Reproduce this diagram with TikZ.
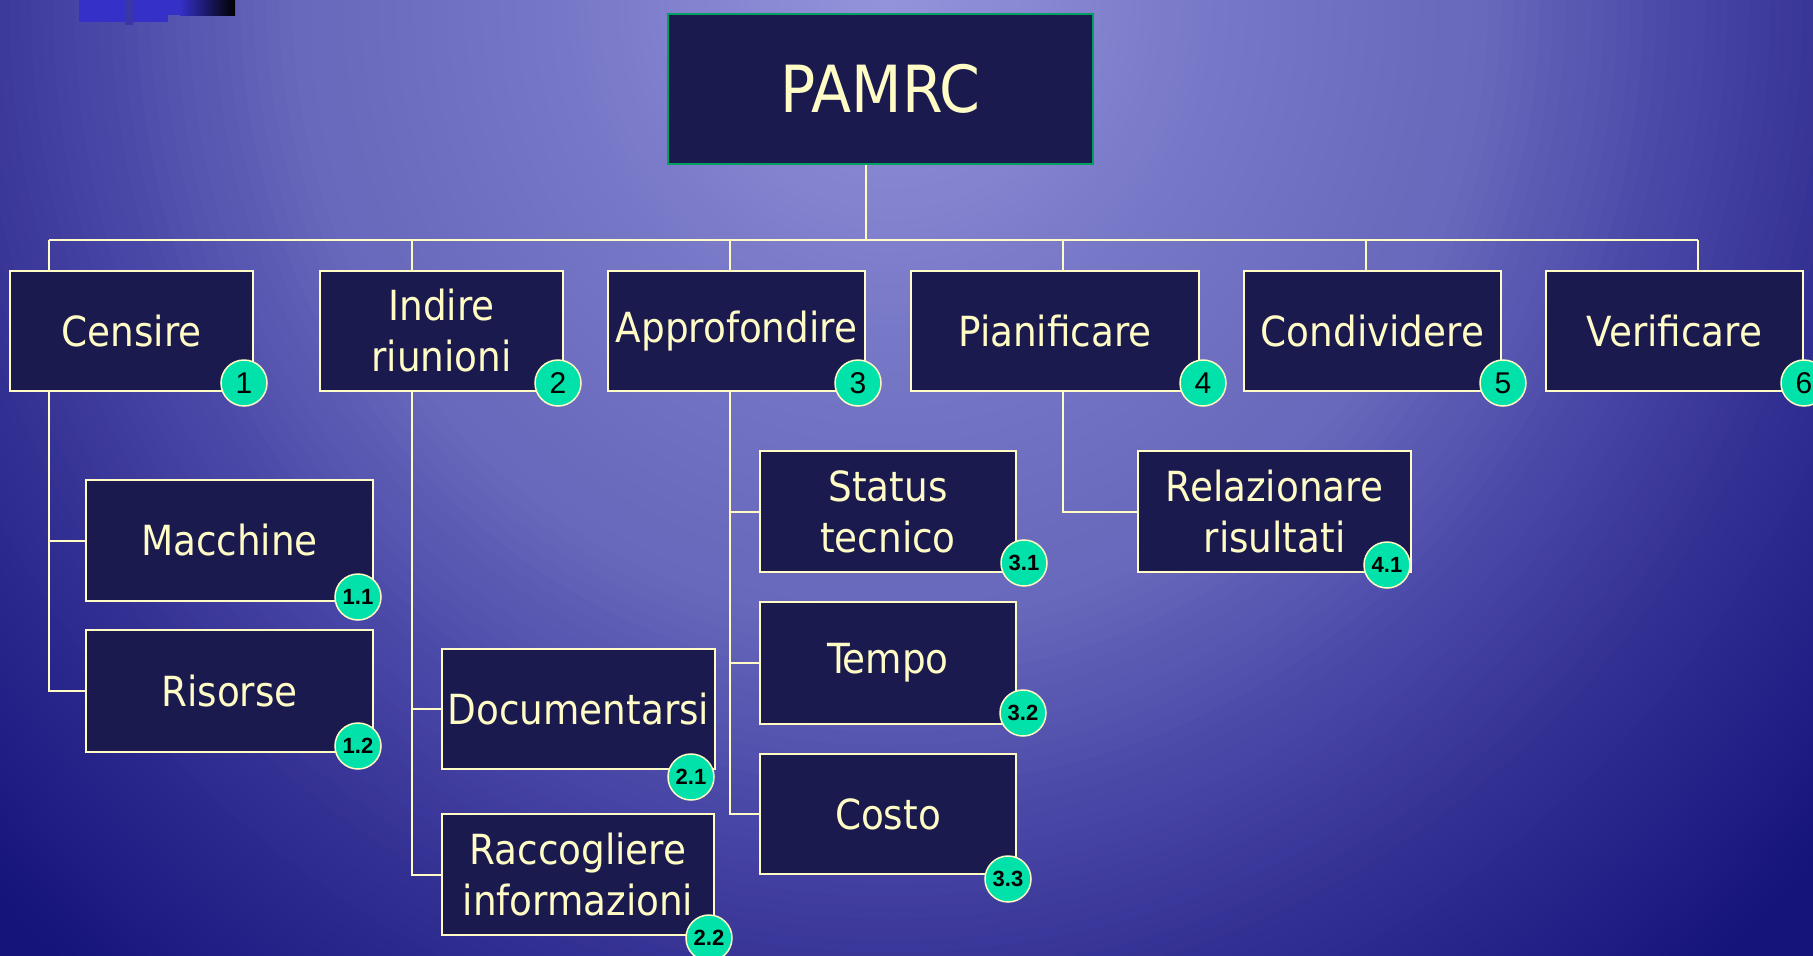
\documentclass[tikz,border=0pt]{standalone}
\usepackage{fontspec}
\setmainfont{DejaVu Sans Condensed}
\newfontfamily\badgefont{Liberation Sans}
\usetikzlibrary{calc}
\definecolor{boxfill}{HTML}{1B1A4E}
\definecolor{cream}{HTML}{FFFCC6}
\definecolor{badgegreen}{HTML}{00E2AA}
\definecolor{rootborder}{HTML}{00A060}
\definecolor{logoblue}{HTML}{3430C8}
\definecolor{logobar}{HTML}{3A36A8}
\definecolor{bgA}{RGB}{148,148,220}
\definecolor{bgB}{RGB}{134,134,210}
\definecolor{bgC}{RGB}{120,120,200}
\definecolor{bgD}{RGB}{104,104,188}
\definecolor{bgE}{RGB}{72,70,166}
\definecolor{bgF}{RGB}{50,47,146}
\definecolor{bgG}{RGB}{32,29,132}
\definecolor{bgH}{RGB}{21,20,122}
\newcommand\bgring[4]{%
  \foreach \k in {0,...,15}{%
    \pgfmathsetmacro\rr{#2-(#2-#1)*\k/16}%
    \pgfmathsetmacro\pp{100*\k/16}%
    \fill[#3!\pp!#4] (890,0) ellipse [x radius=\rr*1150, y radius=\rr*1200];
  }}
\tikzset{
  wbox/.style={draw=cream, line width=1.5pt, fill=boxfill, text=cream, inner sep=0pt,
    font=\fontsize{41.5}{51}\selectfont, align=center},
  rootbox/.style={draw=rootborder, line width=2pt, fill=boxfill, text=cream, inner sep=0pt,
    font=\fontsize{65}{70}\selectfont},
  conn/.style={draw=cream, line width=2pt},
  badgebase/.style={circle, draw=cream, line width=1.5pt, fill=badgegreen, text=black,
    inner sep=0pt, minimum size=46pt},
  topbadge/.style={badgebase, font=\badgefont\fontsize{30}{30}\selectfont},
  subbadge/.style={badgebase, font=\badgefont\bfseries\fontsize{22}{22}\selectfont},
}
\begin{document}
\begin{tikzpicture}[x=1pt,y=-1pt]
\useasboundingbox (0,0) rectangle (1813,956);
\clip (0,0) rectangle (1813,956);
% background gradient
\fill[bgH] (0,0) rectangle (1813,956);
\bgring{1.0}{1.08}{bgG}{bgH}
\bgring{0.85}{1.0}{bgF}{bgG}
\bgring{0.7}{0.85}{bgE}{bgF}
\bgring{0.52}{0.7}{bgD}{bgE}
\bgring{0.28}{0.52}{bgC}{bgD}
\bgring{0.14}{0.28}{bgB}{bgC}
\bgring{0.0}{0.14}{bgA}{bgB}
% logo decoration
\fill[logoblue] (79,0) rectangle (168,22);
\fill[logoblue] (167,0) rectangle (180,15);
\shade[left color=logoblue, right color=black] (180,0) rectangle (235,15);
\fill[logobar] (125,0) rectangle (133,25);

% boxes
\node[rootbox, minimum width=425pt, minimum height=150pt] (root) at (880.5,89) {PAMRC};

\node[wbox, minimum width=243pt, minimum height=120pt] (censire) at (131.5,331) {Censire};
\node[wbox, minimum width=243pt, minimum height=120pt] (indire) at (441.5,331) {Indire\\riunioni};
\node[wbox, minimum width=257pt, minimum height=120pt] (approf) at (736.5,331) {Approfondire};
\node[wbox, minimum width=288pt, minimum height=120pt] (pianif) at (1055,331) {Pianificare};
\node[wbox, minimum width=257pt, minimum height=120pt] (condiv) at (1372.5,331) {Condividere};
\node[wbox, minimum width=257pt, minimum height=120pt] (verif) at (1674.5,331) {Verificare};

\node[wbox, minimum width=287pt, minimum height=121pt] (macchine) at (229.5,540.5) {Macchine};
\node[wbox, minimum width=287pt, minimum height=122pt] (risorse) at (229.5,691) {Risorse};
\node[wbox, minimum width=273pt, minimum height=120pt] (document) at (578.5,709) {Documentarsi};
\node[wbox, minimum width=272pt, minimum height=121pt] (raccog) at (578,874.5) {Raccogliere\\informazioni};
\node[wbox, minimum width=256pt, minimum height=121pt] (status) at (888,511.5) {Status\\tecnico};
\node[wbox, minimum width=256pt, minimum height=122pt] (tempo) at (888,663) {Tempo};
\node[wbox, minimum width=256pt, minimum height=120pt] (costo) at (888,814) {Costo};
\node[wbox, minimum width=273pt, minimum height=121pt] (relaz) at (1274.5,511.5) {Relazionare\\risultati};

% connectors
\coordinate (drop) at (866,240);
\coordinate (d1) at (49,240);
\coordinate (d2) at (412,240);
\coordinate (d3) at (730,240);
\coordinate (d4) at (1063,240);
\coordinate (d5) at (1366,240);
\coordinate (d6) at (1698,240);
\draw[conn] (drop |- root.south) -- (drop);
\draw[conn] (d1) -- (d6);
\draw[conn] (d1) -- (d1 |- censire.north);
\draw[conn] (d2) -- (d2 |- indire.north);
\draw[conn] (d3) -- (d3 |- approf.north);
\draw[conn] (d4) -- (d4 |- pianif.north);
\draw[conn] (d5) -- (d5 |- condiv.north);
\draw[conn] (d6) -- (d6 |- verif.north);
\draw[conn] (d1 |- censire.south) |- (risorse.west);
\draw[conn] (d1 |- macchine.west) -- (macchine.west);
\draw[conn] (d2 |- indire.south) |- (raccog.west);
\draw[conn] (d2 |- document.west) -- (document.west);
\draw[conn] (d3 |- approf.south) |- (costo.west);
\draw[conn] (d3 |- status.west) -- (status.west);
\draw[conn] (d3 |- tempo.west) -- (tempo.west);
\draw[conn] (d4 |- pianif.south) |- (relaz.west);

% badges
\node[topbadge] (n1) at (244,383) {1};
\node[topbadge] (n2) at (558,383) {2};
\node[topbadge] (n3) at (858,383) {3};
\node[topbadge] (n4) at (1203,383) {4};
\node[topbadge] (n5) at (1503,383) {5};
\node[topbadge] (n6) at (1804,383) {6};
\node[subbadge] (n11) at (358,597) {1.1};
\node[subbadge] (n12) at (358,746) {1.2};
\node[subbadge] (n21) at (691,777) {2.1};
\node[subbadge] (n22) at (709,938) {2.2};
\node[subbadge] (n31) at (1024,563) {3.1};
\node[subbadge] (n32) at (1023,713) {3.2};
\node[subbadge] (n33) at (1008,879) {3.3};
\node[subbadge] (n41) at (1387,565) {4.1};
\end{tikzpicture}
\end{document}
